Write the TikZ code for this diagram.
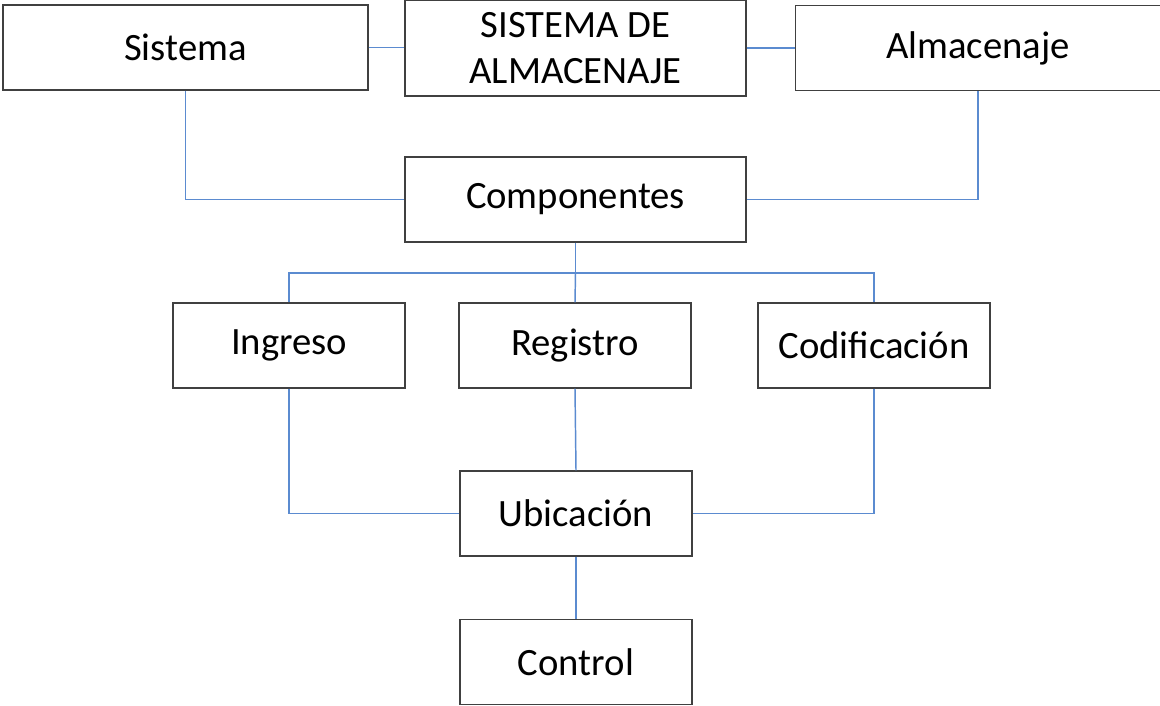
\documentclass[tikz,border=0pt]{standalone}
\usepackage{fontspec}
\setmainfont{Carlito}
\usepackage{tikz}
\usetikzlibrary{positioning}

\definecolor{boxline}{HTML}{404040}
\definecolor{linkblue}{HTML}{5B8BD0}

\tikzset{
  caja/.style={draw=boxline, line width=1.1pt, fill=white, inner sep=0pt,
    font=\fontsize{29}{35}\selectfont, align=center,
    minimum width=174pt, minimum height=63.75pt},
  cajaancha/.style={caja, minimum width=273.75pt},
  cajamedia/.style={caja, minimum width=255.75pt},
  enlace/.style={draw=linkblue, line width=1.1pt}
}

\begin{document}
\begin{tikzpicture}[x=0.75pt, y=-0.75pt]
\useasboundingbox (0,0) rectangle (1160,706);

% Top row
\node[cajaancha] (sistema) at (185.5,47.5) {Sistema};
\node[cajamedia, minimum height=72pt] (titulo) at (575.5,48) {SISTEMA DE\\ALMACENAJE};
\node[cajaancha] (almacenaje) at (978,48) {Almacenaje};

% Middle
\node[cajamedia] (componentes) at (575.5,199.5) {Componentes};

% Three components
\node[caja] (ingreso) at (289,345.5) {Ingreso};
\node[caja] (registro) at (575,345.5) {Registro};
\node[caja] (codificacion) at (874,345.5) {Codificación};

% Bottom
\node[caja] (ubicacion) at (576,513.5) {Ubicación};
\node[caja] (control) at (576,662) {Control};

% Coordinate for the branch line
\coordinate (bus) at (575.5,273);

% Links of the top row
\draw[enlace] (sistema.east) -- (sistema.east -| titulo.west);
\draw[enlace] (titulo.east |- almacenaje.west) -- (almacenaje.west);
\draw[enlace] (sistema.south) |- (componentes.west);
\draw[enlace] (almacenaje.south) |- (componentes.east);

% Branch to the three components
\draw[enlace] (componentes.south) -- (bus);
\draw[enlace] (ingreso.north) |- (bus) -| (codificacion.north);
\draw[enlace] (bus) -- (registro.north);

% Down to Ubicacion and Control
\draw[enlace] (ingreso.south) |- (ubicacion.west);
\draw[enlace] (registro.south) -- (ubicacion.north);
\draw[enlace] (codificacion.south) |- (ubicacion.east);
\draw[enlace] (ubicacion.south) -- (control.north);
\end{tikzpicture}
\end{document}
